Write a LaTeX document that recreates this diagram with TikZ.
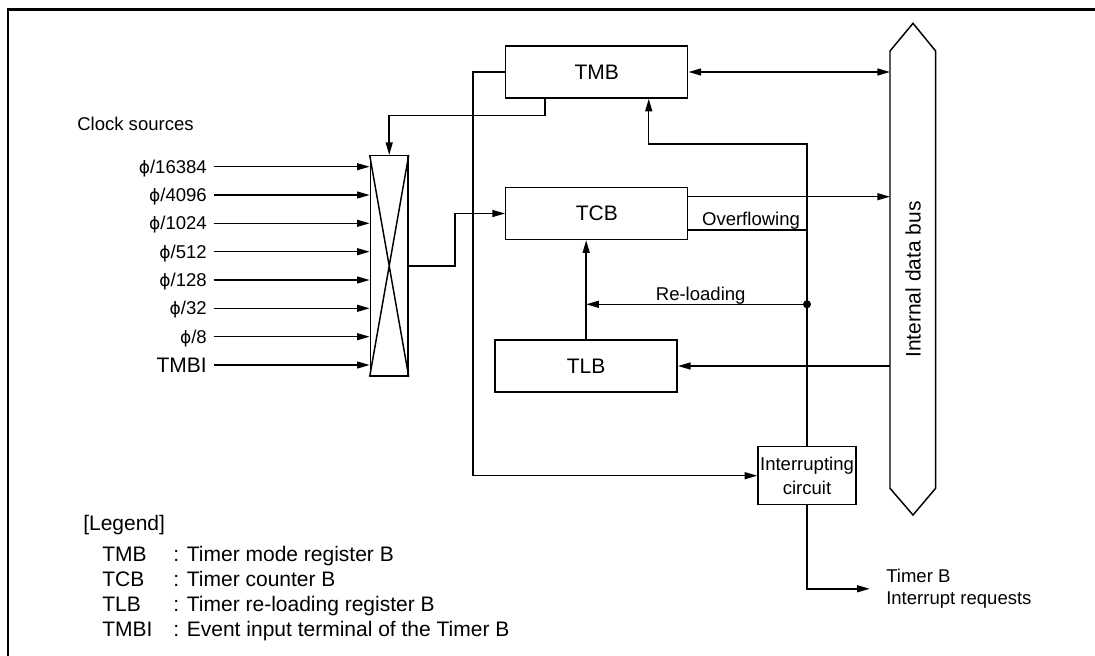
\documentclass[tikz,border=0pt]{standalone}
\usepackage{fontspec}
\setmainfont{Liberation Sans}
\newfontfamily\phifont{DejaVu Sans}
\usetikzlibrary{arrows.meta,calc}
\newdimen\pxu \pxu=0.75pt
\newcommand\bigf{\fontsize{15.75}{19}\selectfont}
\newcommand\smallf{\fontsize{13.9}{16.7}\selectfont}
\newcommand\phis{{\phifont\fontsize{12.8}{15}\selectfont ϕ}}
\tikzset{
  ln/.style={line width=1.1pt},
  arr/.style={ln, -{Triangle[length=9.5pt,width=5.2pt]}},
  dblarr/.style={ln, {Triangle[length=9.5pt,width=5.2pt]}-{Triangle[length=9.5pt,width=5.2pt]}},
  regbox/.style={draw, ln, inner sep=0pt, minimum width=182\pxu, minimum height=52\pxu, font=\bigf},
  lbls/.style={inner sep=0pt, anchor=east, font=\smallf, text height=10pt, text depth=0pt},
  lblb/.style={inner sep=0pt, anchor=east, font=\bigf, text height=11.3pt, text depth=0pt},
  txt/.style={inner sep=0pt, font=\smallf},
  leg/.style={inner sep=0pt, anchor=base west, font=\bigf},
}
\begin{document}
\begin{tikzpicture}[x=0.75pt,y=-0.75pt]
\useasboundingbox (0,0) rectangle (1095,656);
% frame
\draw[line width=2pt] (8,656) -- (8,9.2) -- (1095,9.2);

% registers
\node[regbox] (tmb) at (596.75,72) {TMB};
\node[regbox] (tcb) at (596.75,213.5) {TCB};
\node[regbox] (tlb) at (586.15,366) {TLB};
\node[draw, ln, inner sep=0pt, minimum width=98\pxu, minimum height=58\pxu, align=center,
      font=\fontsize{13.9}{18}\selectfont] (int) at (807,475.7) {Interrupting\\circuit};

% selector
\node[draw, ln, minimum width=37.6\pxu, minimum height=220.3\pxu, inner sep=0pt] (sel) at (389.2,265.9) {};
\draw[ln] (sel.north west) -- (sel.south east) (sel.north east) -- (sel.south west);

% bus
\draw[ln] (890,51) coordinate (busL) -- (913,23.3) -- (935.6,51) -- (935.6,488.3) -- (913,515) -- (890,488.3) -- cycle;
\node[font=\bigf, rotate=90, inner sep=0pt] (busT) at (913,279.5) {Internal data bus};

% clock sources
\node[txt, anchor=base west] (cs) at (77,130.7) {Clock sources};
\node[lbls] (c1) at (207,166.7) {\phis/16384};
\node[lbls] (c2) at (207,195) {\phis/4096};
\node[lbls] (c3) at (207,223.3) {\phis/1024};
\node[lbls] (c4) at (207,251.7) {\phis/512};
\node[lbls] (c5) at (207,280) {\phis/128};
\node[lbls] (c6) at (207,308.3) {\phis/32};
\node[lbls] (c7) at (207,336.7) {\phis/8};
\node[lblb] (c8) at (207,365) {TMBI};
\foreach \i in {1,...,8} \draw[arr] ([xshift=4.95pt]c\i.east) -- (c\i.east -| sel.west);

% connectors
\draw[dblarr] (tmb.east) -- (tmb.east -| busL);
\coordinate (tcbo1) at ([yshift=12.6pt]tcb.east);
\draw[arr] (tcbo1) -- (tcbo1 -| busL);
\coordinate (fb) at (807,144);
\coordinate (tcbo2) at ([yshift=-12.4pt]tcb.east);
\draw[ln] (tcbo2) -- (tcbo2 -| fb);
\node[txt, anchor=base] (ovf) at (751,225.5) {Overflowing};
\path (tmb.south) ++(52,0) coordinate (tx);
\draw[arr] (int.north) -- (fb) -| (tx);
\coordinate (dot) at (807,304.3);
\fill (dot) circle[radius=3pt];
\draw[arr] (dot) -- (dot -| tlb.north);
\node[txt, anchor=base] (rl) at (700.7,300.5) {Re-loading};
\draw[arr] (tlb.north) -- (tlb.north |- tcb.south);
\draw[arr] (tlb.east -| busL) -- (tlb.east);
\path (tmb.south) ++(-51.75,0) coordinate (tmbo);
\draw[arr] (tmbo) -- ++(0,16.7) -| (sel.north);
\draw[arr] (sel.east) -- ++(46.3,0) |- (tcb.west);
\coordinate (lx) at (473,0);
\draw[arr] (tmb.west) -- (tmb.west -| lx) |- (int.west);
\node[txt, anchor=west, align=left, font=\fontsize{13.9}{16.7}\selectfont] (treq) at (886,588.8) {Timer B\\Interrupt requests};
\draw[arr, shorten >=12.2pt] (int.south) |- (treq.west);

% legend
\node[leg] (lg) at (83,530) {[Legend]};
\node[leg] (k1) at (102,561.7) {TMB};
\node[leg] (d1) at (173,561.7) {: Timer mode register B};
\node[leg] (k2) at (102,586.7) {TCB};
\node[leg] (d2) at (173,586.7) {: Timer counter B};
\node[leg] (k3) at (102,611.7) {TLB};
\node[leg] (d3) at (173,611.7) {: Timer re-loading register B};
\node[leg] (k4) at (102,636.7) {TMBI};
\node[leg] (d4) at (173,636.7) {: Event input terminal of the Timer B};
\end{tikzpicture}
\end{document}
